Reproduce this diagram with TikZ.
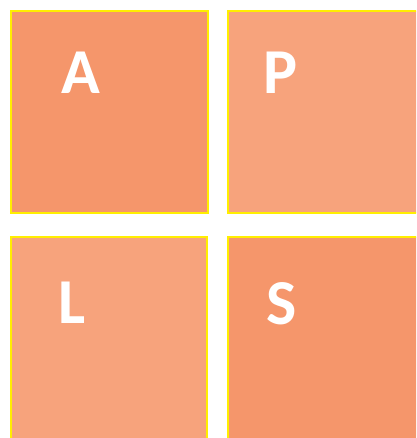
\documentclass[tikz,border=0pt]{standalone}
\usepackage{fontspec}
\setmainfont{Carlito}
\definecolor{darkor}{RGB}{245,150,107}
\definecolor{lightor}{RGB}{247,163,124}
\definecolor{edgey}{RGB}{255,238,0}
\tikzset{
  tile/.style={draw=edgey, line width=2pt, inner sep=0pt, outer sep=0pt, anchor=north west},
  letter/.style={text=white, font=\bfseries\fontsize{64}{64}\selectfont, inner sep=0pt, anchor=base west}
}
\begin{document}
\begin{tikzpicture}[x=1pt,y=-1pt]
\useasboundingbox (0,0) rectangle (416,438);
\clip (0,0) rectangle (416,438);
\fill[white] (0,0) rectangle (416,438);
\node[tile, fill=darkor, minimum width=197pt, minimum height=202pt] (ta) at (11,11) {};
\node[tile, fill=lightor, minimum width=200pt, minimum height=202pt] (tp) at (228,11) {};
\node[tile, fill=lightor, minimum width=196pt, minimum height=210pt] (tl) at (11,237) {};
\node[tile, fill=darkor, minimum width=200pt, minimum height=210pt] (ts) at (228,237) {};
\node[letter] (la) at (61,94) {A};
\node[letter] (lp) at (263,94) {P};
\node[letter] (ll) at (58,323) {L};
\node[letter] (ls) at (266,324) {S};
\end{tikzpicture}
\end{document}
